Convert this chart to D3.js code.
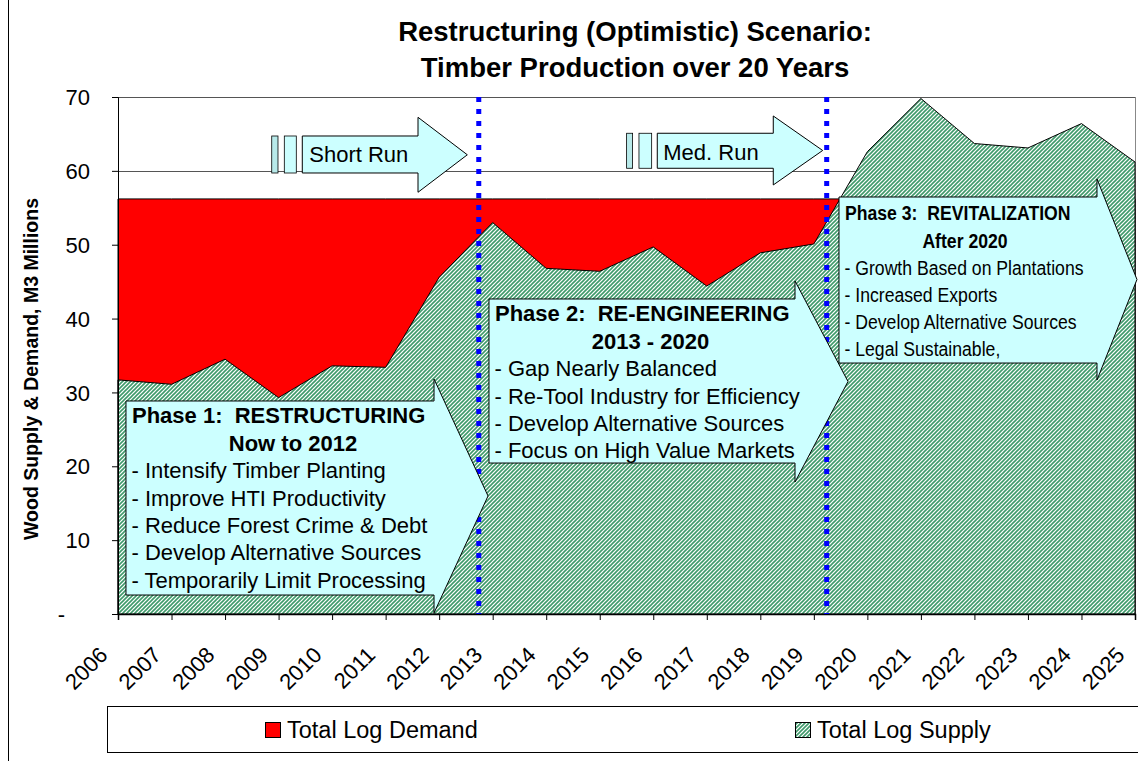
<!DOCTYPE html>
<html><head><meta charset="utf-8">
<script src="https://cdn.jsdelivr.net/npm/d3@7"></script>
<style>
html,body{margin:0;padding:0;background:#fff;}
svg{display:block;font-family:"Liberation Sans",Arial,sans-serif;}
text{white-space:pre;}
</style></head><body>
<svg id="chart" width="1138" height="761"></svg>
<script>
// ---------- DATA ----------
const years = [2006,2007,2008,2009,2010,2011,2012,2013,2014,2015,2016,2017,2018,2019,2020,2021,2022,2023,2024,2025];
const supply = [31.7,31.1,34.5,29.3,33.6,33.4,45.6,53.0,46.8,46.4,49.7,44.4,48.9,50.1,62.6,69.8,63.7,63.1,66.4,61.2];
const demand = [56.2,56.2,56.2,56.2,56.2,56.2,56.2,56.2,56.2,56.2,56.2,56.2,56.2,56.2,56.2,56.2,56.2,56.2,56.2,56.2];
const yTicks = [0,10,20,30,40,50,60,70];
const yTickLabels = ["-","10","20","30","40","50","60","70"];
const seriesNames = ["Total Log Demand","Total Log Supply"];
const titleLines = ["Restructuring (Optimistic) Scenario:","Timber Production over 20 Years"];
const yAxisTitle = "Wood Supply & Demand, M3 Millions";
const phaseDividers = [2012.74, 2019.24];
const phase1Lines = ["Phase 1:  RESTRUCTURING","Now to 2012","- Intensify Timber Planting","- Improve HTI Productivity","- Reduce Forest Crime & Debt","- Develop Alternative Sources","- Temporarily Limit Processing"];
const phase2Lines = ["Phase 2:  RE-ENGINEERING","2013 - 2020","- Gap Nearly Balanced","- Re-Tool Industry for Efficiency","- Develop Alternative Sources","- Focus on High Value Markets"];
const phase3Lines = ["Phase 3:  REVITALIZATION","After 2020","- Growth Based on Plantations","- Increased Exports","- Develop Alternative Sources","- Legal Sustainable,"];
const runLabels = ["Short Run","Med. Run"];

// ---------- LAYOUT ----------
const W = 1138, H = 761;
const plot = {left:118, right:1135, top:97, bottom:614};
const svg = d3.select("#chart");
const x = d3.scaleLinear().domain([years[0], years[years.length-1]]).range([plot.left, plot.right]);
const y = d3.scaleLinear().domain([0,70]).range([plot.bottom, plot.top]);

// annotation arrow geometry (in data units)
const arrowShort = {bars:[[2008.872,2008.989],[2009.107,2009.331]], x0:2009.443, x1:2011.605, x2:2012.526, yTop:64.72, yBot:59.71, hTop:67.25, hBot:57.10};
const arrowMed   = {bars:[[2015.502,2015.614],[2015.733,2015.970]], x0:2016.075, x1:2018.242, x2:2019.165, yTop:65.09, yBot:60.35, hTop:67.43, hBot:58.09};
const arrowP1 = {x0:2006.149, x1:2011.904, x2:2012.913, yTop:28.84, yBot:2.57, hTop:31.82, hBot:0.14};
const arrowP2 = {x0:2012.931, x1:2018.648, x2:2019.638, yTop:42.65, yBot:20.44, hTop:45.09, hBot:17.87};
const arrowP3 = {x0:2019.470, x1:2024.290, x2:2025.037, yTop:56.46, yBot:33.98, hTop:58.90, hBot:31.68};

const defs = svg.append("defs");
const pat = defs.append("pattern").attr("id","hatch").attr("patternUnits","userSpaceOnUse").attr("width",4).attr("height",4);
pat.append("rect").attr("width",4).attr("height",4).attr("fill","#ffffff");
pat.append("path").attr("d","M-1,1 l2,-2 M0,4 l4,-4 M3,5 l2,-2").attr("stroke","#3f9a6b").attr("stroke-width",1.6);

// chart area left border
svg.append("line").attr("x1",8.5).attr("x2",8.5).attr("y1",0).attr("y2",H).attr("stroke","#000").attr("stroke-width",1);

// title
svg.append("g").selectAll("text").data(titleLines).join("text")
  .attr("x",635).attr("y",(d,i)=>41+i*36).attr("text-anchor","middle")
  .attr("font-size",27.5).attr("font-weight","bold").text(d=>d);

// gridlines
svg.append("g").selectAll("line").data(yTicks.filter(d=>d>0)).join("line")
  .attr("x1",plot.left).attr("x2",plot.right).attr("y1",d=>Math.round(y(d))+0.5).attr("y2",d=>Math.round(y(d))+0.5)
  .attr("stroke","#555").attr("stroke-width",1);
// plot border (right)
svg.append("line").attr("x1",plot.right+0.5).attr("x2",plot.right+0.5).attr("y1",plot.top).attr("y2",plot.bottom).attr("stroke","#888");

// areas
const areaGen = d3.area().x((d,i)=>x(years[i])).y0(y(0)).y1(d=>y(d));
svg.append("path").datum(demand).attr("d",areaGen).attr("fill","#ff0000").attr("stroke","#000").attr("stroke-width",1);
svg.append("path").datum(supply).attr("d",areaGen).attr("fill","url(#hatch)").attr("stroke","#000").attr("stroke-width",1);

// axes
const yAxis = d3.axisLeft(y).tickValues(yTicks).tickSize(6).tickFormat((d,i)=>yTickLabels[i]);
const gy = svg.append("g").attr("transform",`translate(${plot.left},0)`).call(yAxis);
gy.select(".domain").attr("stroke","#000");
gy.selectAll("text").attr("font-size",22).attr("fill","#000").attr("font-family","'Liberation Sans',Arial,sans-serif")
  .attr("x",-28).attr("dy","0.35em");
gy.selectAll(".tick").filter(d=>d===0).select("text").attr("x",-53);

const xAxis = d3.axisBottom(x).tickValues(years).tickSize(6).tickFormat(d3.format("d"));
const gx = svg.append("g").attr("transform",`translate(0,${plot.bottom})`).call(xAxis);
gx.select(".domain").attr("stroke","#000").attr("stroke-width",1.5);
gx.selectAll("text").attr("font-size",22).attr("fill","#000").attr("font-family","'Liberation Sans',Arial,sans-serif")
  .attr("text-anchor","end").attr("y",0).attr("dy","0.35em")
  .attr("transform","translate(-15,37) rotate(-45)");

// y-axis title
svg.append("text").attr("transform","translate(38,369) rotate(-90)").attr("text-anchor","middle")
  .attr("font-size",19.5).attr("font-weight","bold").text(yAxisTitle);

// phase divider lines
svg.append("g").selectAll("line").data(phaseDividers).join("line")
  .attr("x1",d=>x(d)).attr("x2",d=>x(d)).attr("y1",plot.top).attr("y2",plot.bottom)
  .attr("stroke","#0000ff").attr("stroke-width",5).attr("stroke-dasharray","5,7");

// arrows
const FILL = "#ccffff";
function arrowPath(a){
  const X0=x(a.x0),X1=x(a.x1),X2=x(a.x2),T=y(a.yTop),B=y(a.yBot),HT=y(a.hTop),HB=y(a.hBot),M=(HT+HB)/2;
  return `M${X0},${T}L${X1},${T}L${X1},${HT}L${X2},${M}L${X1},${HB}L${X1},${B}L${X0},${B}Z`;
}
function drawArrow(a){
  const g = svg.append("g");
  if(a.bars) a.bars.forEach((b,i)=>{
    g.append("rect").attr("x",x(b[0])).attr("y",y(a.yTop)).attr("width",x(b[1])-x(b[0])).attr("height",y(a.yBot)-y(a.yTop))
     .attr("fill",i===0?"#b8eaea":FILL).attr("stroke","#000").attr("stroke-width",0.8);
  });
  g.append("path").attr("d",arrowPath(a)).attr("fill",FILL).attr("stroke","#000").attr("stroke-width",1);
  return g;
}
function txt(g,xx,yy,s,size,bold,anchor,sx){
  g.append("text").attr("transform",`translate(${xx},${yy}) scale(${sx||1},1)`)
   .attr("font-size",size).attr("font-weight",bold?"bold":"normal").attr("text-anchor",anchor||"start").text(s);
}
const gS = drawArrow(arrowShort);
txt(gS, x(arrowShort.x0)+7, y(arrowShort.yTop)+26.5, runLabels[0], 22, false);
const gM = drawArrow(arrowMed);
txt(gM, x(arrowMed.x0)+6, y(arrowMed.yTop)+26.5, runLabels[1], 22, false);

function phaseBox(a, lines, centerOff, size, sx){
  const g = drawArrow(a);
  const L = x(a.x0), T = y(a.yTop);
  txt(g, L+6, T+22.5, lines[0], size, true, "start", sx);
  txt(g, L+centerOff, T+50.5, lines[1], size, true, "middle", sx);
  lines.slice(2).forEach((s,i)=> txt(g, L+5.5, T+77.5+i*27.3, s, size, false, "start", sx));
}
phaseBox(arrowP1, phase1Lines, 167, 22, 1);
phaseBox(arrowP2, phase2Lines, 161.5, 22, 1);
phaseBox(arrowP3, phase3Lines, 126, 21, 0.84);

// legend
const lg = svg.append("g");
lg.append("rect").attr("x",107.5).attr("y",706.5).attr("width",1040).attr("height",46).attr("fill","#fff").attr("stroke","#000").attr("stroke-width",1);
const legendItems = [{name:seriesNames[0], fill:"#ff0000", x:265},{name:seriesNames[1], fill:"url(#hatch)", x:795}];
legendItems.forEach(it=>{
  lg.append("rect").attr("x",it.x+0.5).attr("y",722.5).attr("width",15).attr("height",15).attr("fill",it.fill).attr("stroke","#000");
  lg.append("text").attr("x",it.x+22).attr("y",738).attr("font-size",23.5).text(it.name);
});
</script>
</body></html>
